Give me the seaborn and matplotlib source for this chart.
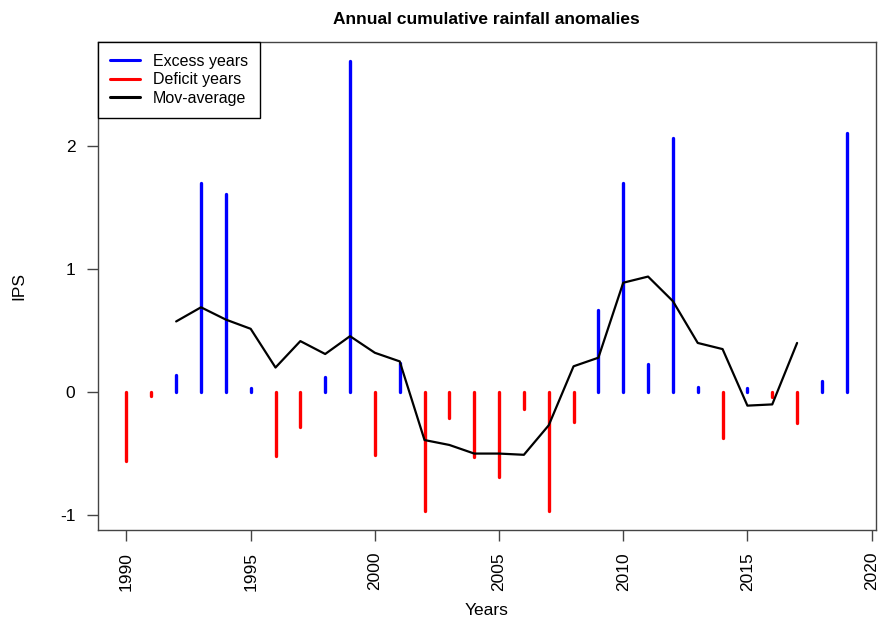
import numpy as np
import pandas as pd
import matplotlib
matplotlib.use("Agg")
import matplotlib.pyplot as plt
import seaborn as sns
from matplotlib.lines import Line2D

# annual IPS values
years = list(range(1990, 2020))
ips = [-0.56, -0.03, 0.14, 1.70, 1.61, 0.03, -0.52, -0.28, 0.12, 2.69,
       -0.51, 0.24, -0.97, -0.21, -0.53, -0.69, -0.14, -0.97, -0.24, 0.67,
       1.70, 0.23, 2.07, 0.04, -0.37, 0.03, -0.04, -0.25, 0.09, 2.11]

# moving average, 1992-2017
ma_years = list(range(1992, 2018))
ma_vals = [0.575, 0.69, 0.59, 0.515, 0.20, 0.415, 0.31, 0.455, 0.32, 0.25,
           -0.39, -0.43, -0.50, -0.50, -0.51, -0.27, 0.21, 0.28, 0.89, 0.94,
           0.74, 0.40, 0.35, -0.11, -0.10, 0.40]

df = pd.DataFrame({"year": years, "ips": ips})
ma = pd.DataFrame({"year": ma_years, "ma": ma_vals})
exc = df[df.ips >= 0]
dfc = df[df.ips < 0]

sns.set_style("ticks")
plt.rcParams["font.family"] = ["Liberation Sans", "DejaVu Sans"]
plt.rcParams["axes.unicode_minus"] = False
plt.rcParams["text.color"] = "black"
plt.rcParams["axes.labelcolor"] = "black"

fig = plt.figure(figsize=(8.88, 6.24), dpi=100)
ax = fig.add_axes([0.110, 0.151, 0.876, 0.782])

ax.vlines(exc.year, 0, exc.ips, color="blue", lw=2.4, capstyle="round")
ax.vlines(dfc.year, 0, dfc.ips, color="red", lw=2.4, capstyle="round")
sns.lineplot(data=ma, x="year", y="ma", color="black", lw=1.6, ax=ax)

ax.set_xlim(1988.84, 2020.16)
ax.set_ylim(-1.12, 2.85)
ax.set_xticks(range(1990, 2021, 5))
ax.set_yticks([-1, 0, 1, 2])
ax.tick_params(axis="x", labelrotation=90, direction="out", length=8, pad=8,
               width=1, colors="#444444", labelsize=12.5, labelcolor="black",
               bottom=True)
ax.tick_params(axis="y", direction="out", length=8, pad=8, width=1,
               colors="#444444", labelsize=12.5, labelcolor="black", left=True)
for s in ax.spines.values():
    s.set_visible(True)
    s.set_color("#444444")
    s.set_linewidth(1)

ax.set_xlabel("Years", fontsize=12.5, labelpad=9)
ax.set_ylabel("IPS", fontsize=12.5, labelpad=24)
ax.set_title("Annual cumulative rainfall anomalies", fontsize=12.5,
             fontweight="bold", pad=13)

handles = [Line2D([], [], color="blue", lw=2.2),
           Line2D([], [], color="red", lw=2.2),
           Line2D([], [], color="black", lw=2.2)]
leg = ax.legend(handles, ["Excess years", "Deficit years", "Mov-average"],
                loc="upper left", bbox_to_anchor=(0, 1), borderaxespad=0,
                fancybox=False, framealpha=1, edgecolor="black",
                fontsize=11.5, handlelength=1.9, handletextpad=0.8,
                labelspacing=0.22, borderpad=0.75)
leg.get_frame().set_linewidth(1)

fig.savefig("out.png", dpi=100)
